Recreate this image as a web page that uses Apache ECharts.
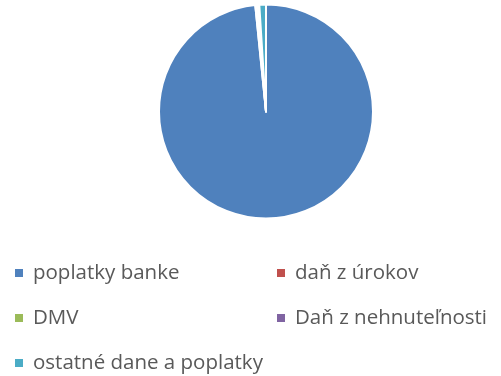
<!DOCTYPE html>
<html>
<head>
<meta charset="utf-8">
<script src="https://cdn.jsdelivr.net/npm/echarts@6/dist/echarts.min.js"></script>
<style>
html, body { margin: 0; padding: 0; background: #fff; }
#main { width: 501px; height: 376px; }
</style>
</head>
<body>
<div id="main"></div>
<script>
var categories = ['poplatky banke', 'daň z úrokov', 'DMV', 'Daň z nehnuteľnosti', 'ostatné dane a poplatky'];
var values = [98.4, 0.2, 0.1, 0.3, 1.0];
var colors = ['#4f81bd', '#c0504d', '#9bbb59', '#8064a2', '#4bacc6'];

var myChart = echarts.init(document.getElementById('main'));

var data = [];
for (var i = 0; i < categories.length; i++) {
    data.push({ name: categories[i], value: values[i], itemStyle: { color: colors[i] } });
}

// legend laid out in two columns like the original
function makeLegend(left, names) {
    return {
        show: true,
        left: left,
        top: 261,
        orient: 'vertical',
        icon: 'rect',
        itemWidth: 8,
        itemHeight: 8,
        itemGap: 21,
        padding: 0,
        itemStyle: { borderWidth: 0 },
        textStyle: {
            color: '#595959',
            fontFamily: 'Open Sans',
            fontSize: 20.5,
            lineHeight: 24,
            padding: [0, 0, 0, 5]
        },
        data: names
    };
}

var option = {
    animation: false,
    legend: [
        makeLegend(15, [categories[0], categories[2], categories[4]]),
        makeLegend(277, [categories[1], categories[3]])
    ],
    series: [
        {
            name: 'Dane',
            type: 'pie',
            center: [266, 111.5],
            radius: [0, 107],
            startAngle: 90,
            clockwise: true,
            silent: true,
            label: { show: false },
            labelLine: { show: false },
            itemStyle: {
                borderColor: '#ffffff',
                borderWidth: 2
            },
            data: data
        }
    ]
};

myChart.setOption(option);
</script>
</body>
</html>
